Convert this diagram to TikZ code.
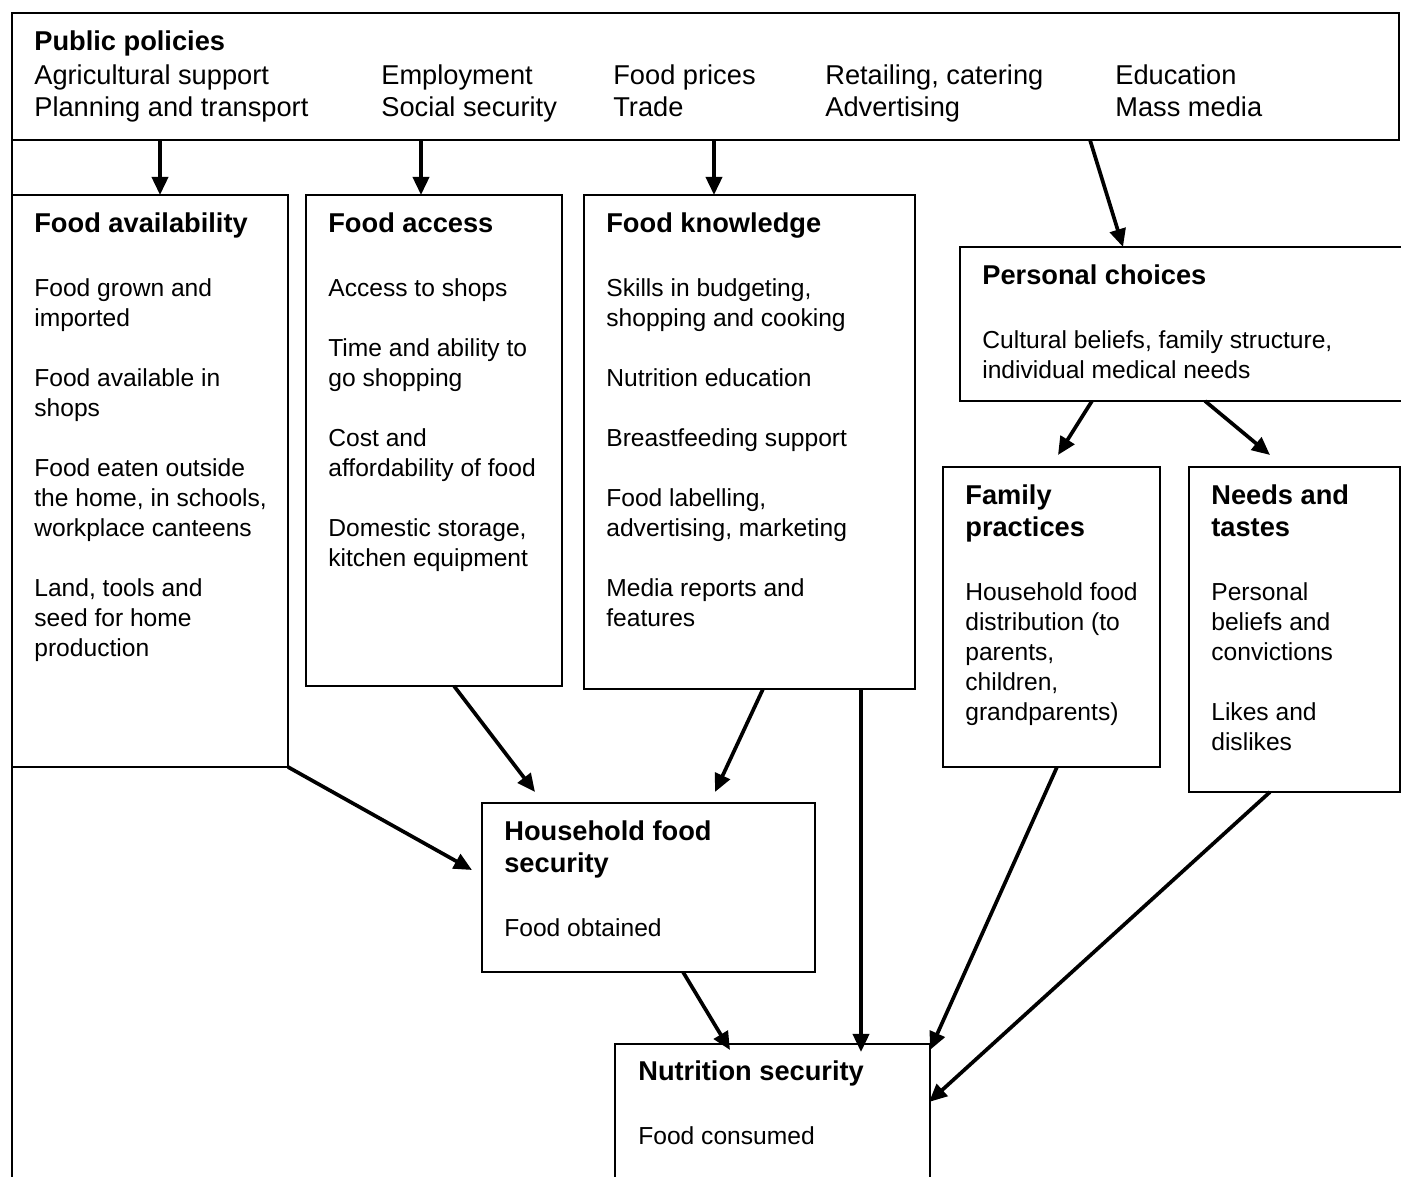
\documentclass[tikz,border=0pt]{standalone}
\usepackage{fontspec}
\setmainfont{Liberation Sans}
\usetikzlibrary{arrows.meta,calc}

\newcommand{\sepH}{19.45pt}
\newcommand{\sepP}{17.07pt}
\newcommand{\sepT}{1.14pt}
\newcommand{\titolo}[1]{{\fontsize{15.5}{17.07}\selectfont\bfseries #1}}

\begin{document}
\begin{tikzpicture}[x=0.2mm,y=-0.2mm,
    box/.style={draw,line width=0.9pt,anchor=north west,inner sep=0pt,outer sep=0pt},
    testo/.style={anchor=north west,inner sep=0pt,align=left,font=\fontsize{14}{17.07}\selectfont},
    colonna/.style={testo,font=\fontsize{15.5}{18.56}\selectfont},
    freccia/.style={line width=2.1pt,-{Triangle[length=3.6mm,width=3.2mm]}}]
  % Cornice
  \fill[white] (0,0) rectangle (1401,1177);
  \useasboundingbox (0,0) rectangle (1401,1177);
  \clip (0,0) rectangle (1401,1177);

  % Politiche pubbliche
  \node[box,minimum width=277.4mm,minimum height=25.4mm] (pp) at (12,13) {};
  \node[testo] (pp-h) at ($(pp.north west)+(22,17.5)$) {\titolo{Public policies}};
  \node[colonna] (pp-c1) at ($(pp.north west)+(22,51)$) {Agricultural support\\Planning and transport};
  \node[colonna] (pp-c2) at ($(pp.north west)+(369,51)$) {Employment\\Social security};
  \node[colonna] (pp-c3) at ($(pp.north west)+(601,51)$) {Food prices\\Trade};
  \node[colonna] (pp-c4) at ($(pp.north west)+(813,51)$) {Retailing, catering\\Advertising};
  \node[colonna] (pp-c5) at ($(pp.north west)+(1103,51)$) {Education\\Mass media};

  % Riquadri
  \node[box,minimum width=55.2mm,minimum height=114.4mm] (fa) at (12,195) {};
  \node[box,minimum width=51.2mm,minimum height=98.2mm] (fac) at (306,195) {};
  \node[box,minimum width=66.2mm,minimum height=98.8mm] (fk) at (584,195) {};
  \node[box,minimum width=92mm,minimum height=30.8mm] (pc) at (960,247) {};
  \node[box,minimum width=43.4mm,minimum height=60mm] (fp) at (943,467) {};
  \node[box,minimum width=42.2mm,minimum height=65mm] (nt) at (1189,467) {};
  \node[box,minimum width=66.6mm,minimum height=33.8mm] (hfs) at (482,803) {};
  \node[box,minimum width=63mm,minimum height=31.2mm] (ns) at (615,1044) {};
  \coordinate (basso) at (12,1200);
  \draw[line width=0.9pt] (pp.north west) -- (basso);

  % Testi
  \node[testo] (fa-t) at ($(fa.north west)+(22,17.5)$) {\titolo{Food availability}\\[\sepH]
    Food grown and\\imported\\[\sepP]
    Food available in\\shops\\[\sepP]
    Food eaten outside\\the home, in schools,\\workplace canteens\\[\sepP]
    Land, tools and\\seed for home\\production};
  \node[testo] (fac-t) at ($(fac.north west)+(22,17.5)$) {\titolo{Food access}\\[\sepH]
    Access to shops\\[\sepP]
    Time and ability to\\go shopping\\[\sepP]
    Cost and\\affordability of food\\[\sepP]
    Domestic storage,\\kitchen equipment};
  \node[testo] (fk-t) at ($(fk.north west)+(22,17.5)$) {\titolo{Food knowledge}\\[\sepH]
    Skills in budgeting,\\shopping and cooking\\[\sepP]
    Nutrition education\\[\sepP]
    Breastfeeding support\\[\sepP]
    Food labelling,\\advertising, marketing\\[\sepP]
    Media reports and\\features};
  \node[testo] (pc-t) at ($(pc.north west)+(22,17)$) {\titolo{Personal choices}\\[\sepH]
    Cultural beliefs, family structure,\\individual medical needs};
  \node[testo] (fp-t) at ($(fp.north west)+(22,17.5)$) {\titolo{Family}\\[\sepT]\titolo{practices}\\[\sepH]
    Household food\\distribution (to\\parents,\\children,\\grandparents)};
  \node[testo] (nt-t) at ($(nt.north west)+(22,17.5)$) {\titolo{Needs and}\\[\sepT]\titolo{tastes}\\[\sepH]
    Personal\\beliefs and\\convictions\\[\sepP]
    Likes and\\dislikes};
  \node[testo] (hfs-t) at ($(hfs.north west)+(22,17.5)$) {\titolo{Household food}\\[\sepT]\titolo{security}\\[\sepH]
    Food obtained};
  \node[testo] (ns-t) at ($(ns.north west)+(23,16.5)$) {\titolo{Nutrition security}\\[\sepH]
    Food consumed};

  % Frecce
  \draw[freccia] ($(pp.south west)+(148,0)$) -- ($(fa.north west)+(148,0)$);
  \draw[freccia] ($(pp.south west)+(409,0)$) -- ($(fac.north west)+(115,0)$);
  \draw[freccia] ($(pp.south west)+(702,0)$) -- ($(fk.north west)+(130,0)$);
  \draw[freccia] ($(pp.south west)+(1078,0)$) -- ($(pc.north west)+(163,0)$);
  \draw[freccia] ($(pc.south west)+(132,0)$) -- ($(fp.north west)+(115,-12)$);
  \draw[freccia] ($(pc.south west)+(245,0)$) -- ($(nt.north west)+(81,-12)$);
  \draw[freccia] (fa.south east) -- ($(hfs.north west)+(-10,67)$);
  \draw[freccia] ($(fac.south west)+(148,0)$) -- ($(hfs.north west)+(53,-11)$);
  \draw[freccia] ($(fk.south west)+(179,0)$) -- ($(hfs.north west)+(233,-11)$);
  \draw[freccia] ($(fk.south west)+(277,0)$) -- ($(ns.north west)+(246,8)$);
  \draw[freccia] ($(hfs.south west)+(201,0)$) -- ($(ns.north west)+(115,6)$);
  \draw[freccia] ($(fp.south west)+(114,0)$) -- ($(ns.north east)+(0,6)$);
  \draw[freccia] ($(nt.south west)+(81,0)$) -- ($(ns.north east)+(-1,58)$);
\end{tikzpicture}
\end{document}
